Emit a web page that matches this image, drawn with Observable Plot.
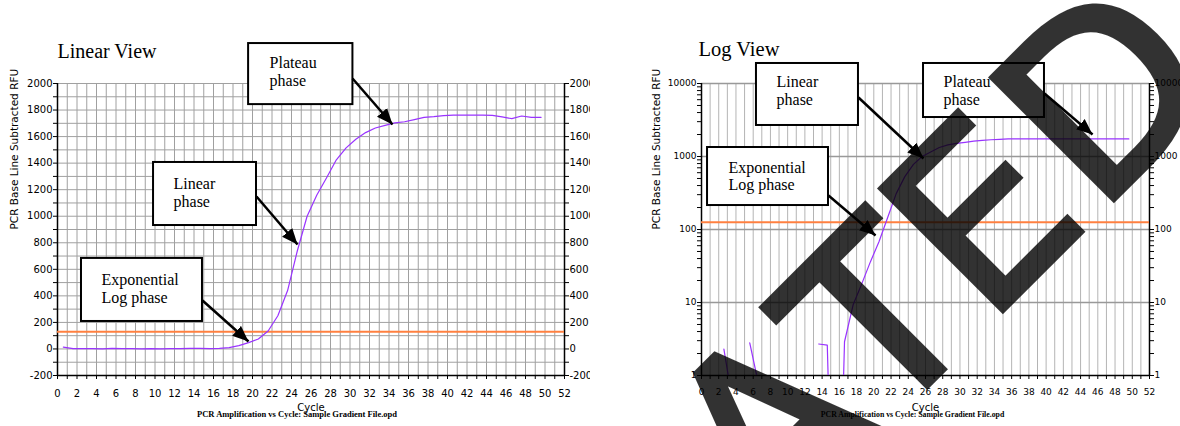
<!DOCTYPE html>
<html><head><meta charset="utf-8">
<script src="https://cdn.jsdelivr.net/npm/d3@7"></script>
<script src="https://cdn.jsdelivr.net/npm/@observablehq/plot@0.6"></script>
<style>
body{margin:0;background:#fff}
#wrap{position:relative;width:1180px;height:426px;background:#fff;overflow:hidden}
#left,#right{position:absolute;top:0;width:590px;height:426px}
#left{left:0}
#right{left:590px}
#wm{position:absolute;left:0;top:0;pointer-events:none}
</style></head><body>
<div id="wrap">
<div id="left"></div>
<div id="right"></div>
<svg id="wm" width="1180" height="426"><g opacity="0.8"><text transform="translate(770.3,542.7) rotate(-45)" font-family="DejaVu Sans" font-size="236" fill="#000" stroke="#000" stroke-width="6" stroke-linejoin="miter" style="font-kerning:none">ATE<tspan dx="8">D</tspan></text></g></svg>
</div>
<script>
// ---- data ----
const cycles = [0.6,1.6,2.6,3.6,4.6,5.6,6.6,7.6,8.6,9.6,10.6,11.6,12.6,13.6,14.6,15.6,16.6,17.6,18.6,19.6,20.6,21.6,22.6,23.6,24.6,25.6,26.6,27.6,28.6,29.6,30.6,31.6,32.6,33.6,34.6,35.6,36.6,37.6,38.6,39.6,40.6,41.6,42.6,43.6,44.6,45.6,46.6,47.6,48.6,49.6];
const linearRFU = [14,2,3,2,1,4,3,2,1,2,1,2,2,4,4,2,5,10,25,48,75,135,250,440,740,1000,1160,1290,1425,1515,1580,1630,1665,1685,1703,1712,1728,1745,1750,1758,1762,1762,1762,1762,1760,1748,1735,1755,1745,1745];
const logRFU = [null,null,2.3,0.44,null,2.8,0.78,null,null,null,null,null,null,2.7,2.6,0.0001,2.9,9.3,18,36,68,145,310,530,780,1000,1150,1330,1440,1510,1560,1620,1665,1695,1720,1740,1740,1740,1740,1740,1740,1740,1740,1740,1740,1740,1740,1740,1740,1740];
const linearThreshold = 130;
const logThreshold = 126;
const xTicks = [0,1,2,3,4,5,6,7,8,9,10,11,12,13,14,15,16,17,18,19,20,21,22,23,24,25,26,27,28,29,30,31,32,33,34,35,36,37,38,39,40,41,42,43,44,45,46,47,48,49,50,51,52];
const linearYTicks = [-200,-100,0,100,200,300,400,500,600,700,800,900,1000,1100,1200,1300,1400,1500,1600,1700,1800,1900,2000];
const logYTicks = [1,2,3,4,5,6,7,8,9,10,20,30,40,50,60,70,80,90,100,200,300,400,500,600,700,800,900,1000,2000,3000,4000,5000,6000,7000,8000,9000,10000];
const logMajor = [1,10,100,1000,10000];

// annotation layout (in data units)
const linBoxes = [
  {x1:19.6, x2:30.3, y1:1841, y2:2301, tx:21.75, ty:2096, label:"Plateau\nphase"},
  {x1:9.85, x2:20.41, y1:930, y2:1405, tx:11.9, ty:1184, label:"Linear\nphase"},
  {x1:2.46, x2:14.87, y1:207, y2:682, tx:4.51, ty:461, label:"Exponential\nLog phase"}
];
const linArrows = [
  {x1:30.26, y1:2038, x2:34.36, y2:1691},
  {x1:20.41, y1:1149, x2:24.62, y2:787},
  {x1:14.87, y1:365, x2:19.59, y2:56}
];
const logBoxes = [
  {x1:6.38, x2:18.22, y1:2660, y2:18800, tx:8.71, ty:7960, label:"Linear\nphase"},
  {x1:0.70, x2:14.74, y1:213, y2:1328, tx:3.13, ty:545, label:"Exponential\nLog phase"},
  {x1:25.77, x2:39.81, y1:3420, y2:18800, tx:28.09, ty:7960, label:"Plateau\nphase"}
];
const logArrows = [
  {x1:18.22, y1:6430, x2:25.77, y2:939},
  {x1:14.74, y1:292, x2:20.20, y2:82.7},
  {x1:39.81, y1:7290, x2:45.39, y2:2001}
];

function filledArrow(color) {
  const ns = "http://www.w3.org/2000/svg";
  const m = document.createElementNS(ns, "marker");
  m.setAttribute("viewBox", "-12 -5 12 10");
  m.setAttribute("markerWidth", "6.4");
  m.setAttribute("markerHeight", "5.6");
  m.setAttribute("orient", "auto");
  m.setAttribute("fill", color);
  m.setAttribute("stroke", "none");
  const p = document.createElementNS(ns, "path");
  p.setAttribute("d", "M-12,-5L0,0L-12,5Z");
  m.appendChild(p);
  return m;
}

const linData = cycles.map((c, i) => ({cycle: c, rfu: linearRFU[i]}));
const logData = cycles.map((c, i) => ({cycle: c, rfu: logRFU[i]}));
const serif = "Liberation Serif";

function build(marker) {
  const left = Plot.plot({
    width: 590, height: 426,
    marginLeft: 57, marginRight: 26, marginTop: 83, marginBottom: 51,
    style: {fontFamily: "DejaVu Sans", fontSize: "10px", background: "white", maxWidth: "none", overflow: "visible"},
    x: {domain: [0, 52], ticks: xTicks, tickFormat: d => d % 2 === 0 ? String(d) : "", tickSize: 4, tickPadding: 10, label: null},
    y: {domain: [-200, 2000], axis: "both", ticks: linearYTicks, tickFormat: d => d % 200 === 0 ? String(d) : "", tickSize: 4, tickPadding: 1, label: null},
    marks: [
      Plot.ruleX(xTicks.filter(d => d > 0 && d < 52), {stroke: "#a0a0a0", strokeWidth: 1}),
      Plot.ruleY(linearYTicks.filter(d => d > -200), {stroke: "#a0a0a0", strokeWidth: 1}),
      Plot.ruleX([0, 52], {stroke: "black", strokeWidth: 1.5}),
      Plot.ruleY([-200], {stroke: "black", strokeWidth: 1.5}),
      Plot.ruleY([linearThreshold], {stroke: "#ff8040", strokeWidth: 2}),
      Plot.line(linData, {x: "cycle", y: "rfu", stroke: "#9933ff", strokeWidth: 1.2}),
      Plot.rect(linBoxes, {x1: "x1", x2: "x2", y1: "y1", y2: "y2", fill: "white", stroke: "black", strokeWidth: 2}),
      Plot.link(linArrows, {x1: "x1", y1: "y1", x2: "x2", y2: "y2", stroke: "black", strokeWidth: 2.5, markerEnd: marker}),
      Plot.text(linBoxes, {x: "tx", y: "ty", text: "label", textAnchor: "start", lineAnchor: "middle", lineHeight: 1.125, fontFamily: serif, fontSize: 16}),
      Plot.text(["Linear View"], {text: d => d, frameAnchor: "top-left", textAnchor: "start", dy: -39.4, fontFamily: serif, fontSize: 20}),
      Plot.text(["PCR Base Line Subtracted RFU"], {text: d => d, frameAnchor: "left", rotate: -90, dx: -42.4, fontSize: 10.5}),
      Plot.text(["Cycle"], {text: d => d, frameAnchor: "bottom", dy: 35.8, fontSize: 10}),
      Plot.text(["PCR Amplification vs Cycle: Sample Gradient File.opd"], {text: d => d, frameAnchor: "bottom", dx: -14, dy: 41.3, fontFamily: serif, fontWeight: "bold", fontSize: 8.5})
    ]
  });
  const right = Plot.plot({
    width: 590, height: 426,
    marginLeft: 111, marginRight: 31, marginTop: 83, marginBottom: 51,
    style: {fontFamily: "DejaVu Sans", fontSize: "9px", background: "white", maxWidth: "none", overflow: "visible"},
    x: {domain: [0, 52], ticks: xTicks, tickFormat: d => d % 2 === 0 ? String(d) : "", tickSize: 4, tickPadding: 9.6, label: null},
    y: {type: "log", domain: [1, 10000], axis: "both", ticks: logYTicks, tickFormat: d => logMajor.includes(d) ? String(d) : "", tickSize: 4, tickPadding: 1, label: null},
    marks: [
      Plot.ruleX(xTicks.filter(d => d > 0 && d < 52), {stroke: "#b4b4b4", strokeWidth: 1}),
      Plot.ruleY(logMajor.filter(d => d > 1), {stroke: "#999999", strokeWidth: 1.3}),
      Plot.ruleX([0, 52], {stroke: "black", strokeWidth: 1.5}),
      Plot.ruleY([1], {stroke: "black", strokeWidth: 1.5}),
      Plot.ruleY([logThreshold], {stroke: "#ff8040", strokeWidth: 2}),
      Plot.line(logData, {x: "cycle", y: "rfu", stroke: "#9933ff", strokeWidth: 1.2, clip: true}),
      Plot.rect(logBoxes, {x1: "x1", x2: "x2", y1: "y1", y2: "y2", fill: "white", stroke: "black", strokeWidth: 2}),
      Plot.link(logArrows, {x1: "x1", y1: "y1", x2: "x2", y2: "y2", stroke: "black", strokeWidth: 2.5, markerEnd: marker}),
      Plot.text(logBoxes, {x: "tx", y: "ty", text: "label", textAnchor: "start", lineAnchor: "middle", lineHeight: 1.125, fontFamily: serif, fontSize: 16}),
      Plot.text(["Log View"], {text: d => d, frameAnchor: "top-left", textAnchor: "start", dx: -3, dy: -41.6, fontFamily: serif, fontSize: 20.5}),
      Plot.text(["PCR Base Line Subtracted RFU"], {text: d => d, frameAnchor: "left", rotate: -90, dx: -44.4, fontSize: 10.5}),
      Plot.text(["Cycle"], {text: d => d, frameAnchor: "bottom", dy: 35.8, fontSize: 10}),
      Plot.text(["PCR Amplification vs Cycle: Sample Gradient File.opd"], {text: d => d, frameAnchor: "bottom", dx: -13, dy: 41.3, fontFamily: serif, fontWeight: "bold", fontSize: 7.8})
    ]
  });
  return [left, right];
}

let charts;
try { charts = build(filledArrow); } catch (e) { charts = build("arrow"); }
document.getElementById("left").appendChild(charts[0]);
document.getElementById("right").appendChild(charts[1]);
</script>
</body></html>
